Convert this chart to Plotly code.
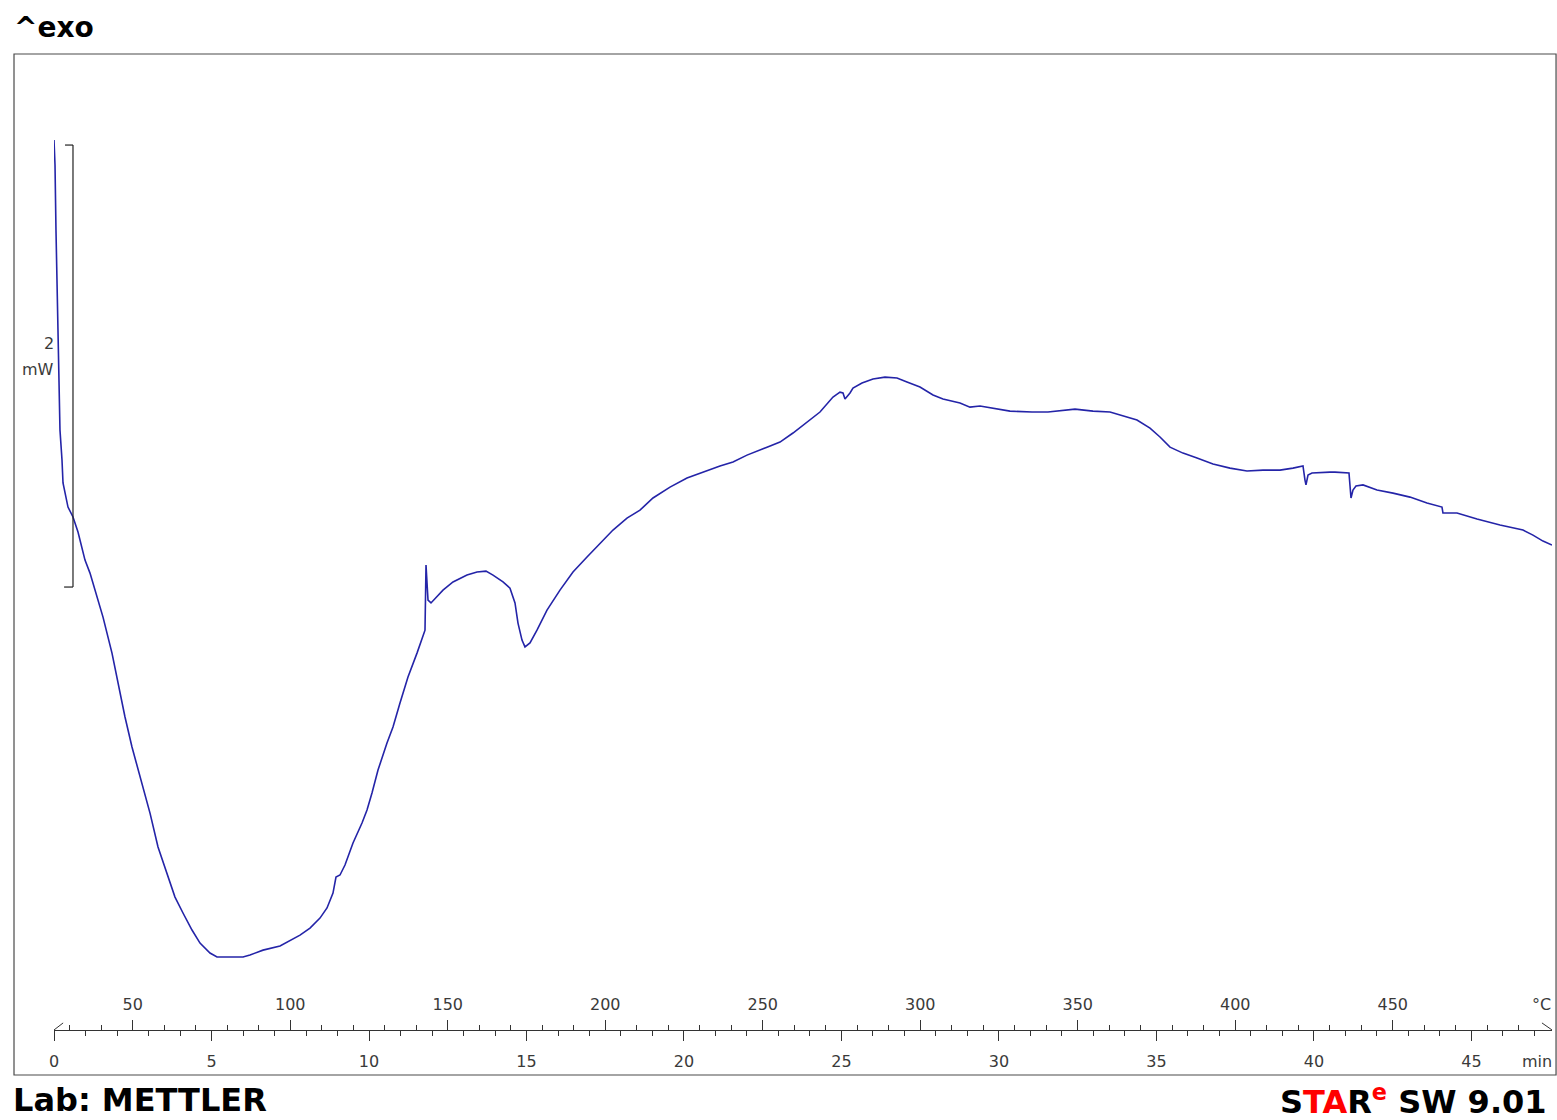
import plotly.graph_objects as go

# DSC run: heat flow (mW) against time (min); heating at 10 K/min from 25 °C
time_min = [
    0.000, 0.032, 0.063, 0.095, 0.127, 0.159, 0.190, 0.254, 0.286, 0.444,
    0.603, 0.762, 0.984, 1.143, 1.365, 1.556, 1.841, 2.032, 2.254, 2.476,
    2.730, 3.048, 3.302, 3.587, 3.841, 4.095, 4.381, 4.635, 4.952, 5.175,
    6.000, 6.222, 6.635, 7.175, 7.810, 8.127, 8.444, 8.667, 8.857, 8.952,
    9.079, 9.238, 9.492, 9.778, 9.937, 10.095, 10.286, 10.571, 10.762, 10.984,
    11.238, 11.524, 11.714, 11.778, 11.810, 11.873, 11.968, 12.159, 12.349, 12.667,
    13.111, 13.429, 13.714, 13.937, 14.254, 14.476, 14.635, 14.730, 14.857, 14.952,
    15.111, 15.333, 15.651, 16.063, 16.476, 16.921, 17.333, 17.746, 18.190, 18.603,
    19.016, 19.556, 20.095, 20.603, 21.143, 21.556, 22.000, 22.635, 23.048, 23.460,
    23.905, 24.317, 24.730, 24.952, 25.048, 25.111, 25.270, 25.365, 25.651, 26.000,
    26.381, 26.762, 27.079, 27.492, 27.905, 28.222, 28.762, 29.079, 29.397, 29.937,
    30.349, 31.048, 31.556, 32.413, 32.984, 33.524, 33.841, 34.381, 34.794, 35.111,
    35.429, 35.841, 36.286, 36.794, 37.333, 37.873, 38.381, 38.921, 39.333, 39.651,
    39.714, 39.746, 39.810, 39.937, 40.508, 40.667, 41.111, 41.175, 41.238, 41.333,
    41.556, 42.000, 42.508, 43.048, 43.587, 43.905, 44.063, 44.095, 44.540, 45.175,
    45.905, 46.635, 46.952, 47.270, 47.556,
]
heat_flow_mw = [
    2.023, 1.910, 1.615, 1.344, 1.118, 0.891, 0.710, 0.575, 0.471, 0.362,
    0.317, 0.249, 0.122, 0.063, -0.045, -0.136, -0.299, -0.434, -0.588, -0.724,
    -0.860, -1.023, -1.176, -1.294, -1.403, -1.475, -1.552, -1.611, -1.656, -1.674,
    -1.674, -1.665, -1.643, -1.624, -1.575, -1.543, -1.498, -1.452, -1.385, -1.312,
    -1.303, -1.258, -1.158, -1.068, -1.009, -0.932, -0.828, -0.706, -0.633, -0.525,
    -0.407, -0.299, -0.217, -0.195, 0.100, -0.059, -0.072, -0.045, -0.014, 0.023,
    0.054, 0.068, 0.072, 0.054, 0.023, -0.005, -0.072, -0.163, -0.240, -0.271,
    -0.253, -0.195, -0.104, -0.014, 0.068, 0.136, 0.199, 0.258, 0.312, 0.348,
    0.403, 0.452, 0.493, 0.520, 0.548, 0.566, 0.597, 0.633, 0.656, 0.697,
    0.747, 0.792, 0.860, 0.882, 0.878, 0.851, 0.878, 0.900, 0.923, 0.941,
    0.950, 0.946, 0.928, 0.905, 0.869, 0.851, 0.833, 0.814, 0.819, 0.805,
    0.796, 0.792, 0.792, 0.805, 0.796, 0.792, 0.778, 0.756, 0.719, 0.679,
    0.633, 0.606, 0.584, 0.557, 0.538, 0.525, 0.529, 0.529, 0.538, 0.548,
    0.484, 0.462, 0.507, 0.516, 0.520, 0.520, 0.516, 0.403, 0.439, 0.457,
    0.462, 0.439, 0.425, 0.407, 0.380, 0.367, 0.362, 0.335, 0.335, 0.308,
    0.281, 0.258, 0.235, 0.208, 0.190,
]

time_major = [0, 5, 10, 15, 20, 25, 30, 35, 40, 45]
temp_major = [50, 100, 150, 200, 250, 300, 350, 400, 450]
temp_minor = list(range(30, 500, 10))
scale_bar_mw = [0, 2]

T_START = 25.0      # °C at t = 0
RATE = 10.0         # K/min
T_END_MIN = 47.556  # end of run, min
Y_RANGE = [-2.208, 2.412]
AXIS_POS = 0.0441   # paper height of the shared time / temperature axis line

TICK_FONT = dict(family="DejaVu Sans", size=16, color="#3a3a3a")
AXIS_COLOR = "#333333"

fig = go.Figure()
fig.add_trace(go.Scatter(
    x=time_min, y=heat_flow_mw, mode="lines",
    line=dict(color="#2424a8", width=1.6),
    hoverinfo="skip", showlegend=False,
))
# invisible markers that attach the temperature scale to the plot
fig.add_trace(go.Scatter(
    x=temp_major, y=[Y_RANGE[0]] * len(temp_major), xaxis="x2", yaxis="y",
    mode="markers", marker=dict(opacity=0, size=1),
    hoverinfo="skip", showlegend=False,
))

fig.update_layout(
    width=1557, height=1120,
    margin=dict(l=54, r=5, t=54, b=45),
    paper_bgcolor="white", plot_bgcolor="white",
    showlegend=False,
    xaxis=dict(
        range=[0, T_END_MIN], anchor="free", position=AXIS_POS, side="bottom",
        showgrid=False, zeroline=False, showline=True,
        linecolor=AXIS_COLOR, linewidth=1,
        tickmode="array", tickvals=time_major,
        ticks="outside", ticklen=10, tickwidth=1, tickcolor=AXIS_COLOR,
        ticklabelstandoff=7, tickfont=TICK_FONT,
        minor=dict(dtick=1, tick0=0, ticks="outside", ticklen=5,
                   tickwidth=1, tickcolor=AXIS_COLOR, showgrid=False),
    ),
    xaxis2=dict(
        range=[T_START, T_START + RATE * T_END_MIN], overlaying="x",
        anchor="free", position=AXIS_POS, side="top",
        showgrid=False, zeroline=False, showline=False,
        tickmode="array", tickvals=temp_major,
        ticks="outside", ticklen=10, tickwidth=1, tickcolor=AXIS_COLOR,
        ticklabelstandoff=4, tickfont=TICK_FONT,
        minor=dict(tickmode="array", tickvals=temp_minor, ticks="outside",
                   ticklen=5, tickwidth=1, tickcolor=AXIS_COLOR, showgrid=False),
    ),
    yaxis=dict(range=Y_RANGE, visible=False, showgrid=False, zeroline=False),
)

shapes = [
    # outer frame
    dict(type="rect", xref="paper", yref="paper", x0=-0.0267, x1=1.0027, y0=0, y1=1,
         line=dict(color="#4a4a4a", width=1.2), layer="above"),
    # start and end marks of the axis line
    dict(type="line", xref="x", yref="paper", x0=0, x1=0.29, y0=AXIS_POS, y1=AXIS_POS + 0.0069,
         line=dict(color=AXIS_COLOR, width=1)),
    dict(type="line", xref="paper", yref="paper", x0=0.9933, x1=1.0, y0=AXIS_POS + 0.0069, y1=AXIS_POS,
         line=dict(color=AXIS_COLOR, width=1)),
    # 2 mW scale bar
    dict(type="line", xref="x", yref="y", x0=0.603, x1=0.603, y0=scale_bar_mw[0], y1=scale_bar_mw[1],
         line=dict(color="#222222", width=1.2)),
    dict(type="line", xref="x", yref="y", x0=0.35, x1=0.603, y0=scale_bar_mw[1], y1=scale_bar_mw[1],
         line=dict(color="#222222", width=1.2)),
    dict(type="line", xref="x", yref="y", x0=0.32, x1=0.603, y0=scale_bar_mw[0], y1=scale_bar_mw[0],
         line=dict(color="#222222", width=1.2)),
]
fig.update_layout(shapes=shapes)

annotations = [
    dict(text="2", x=0.0015, y=1.104, xref="paper", yref="y", xanchor="right", yanchor="middle",
         showarrow=False, font=TICK_FONT),
    dict(text="mW", x=0.0015, y=0.986, xref="paper", yref="y", xanchor="right", yanchor="middle",
         showarrow=False, font=TICK_FONT),
    dict(text="°C", x=0.9933, y=0.0686, xref="paper", yref="paper", xanchor="center", yanchor="middle",
         showarrow=False, font=TICK_FONT),
    dict(text="min", x=0.990, y=0.0137, xref="paper", yref="paper", xanchor="center", yanchor="middle",
         showarrow=False, font=TICK_FONT),
    dict(text="<b>^exo</b>", x=-0.0282, y=1.0264, xref="paper", yref="paper",
         xanchor="left", yanchor="middle", showarrow=False,
         font=dict(family="DejaVu Sans", size=28, color="black")),
    dict(text="<b>Lab: METTLER</b>", x=-0.0287, y=-0.0245, xref="paper", yref="paper",
         xanchor="left", yanchor="middle", showarrow=False,
         font=dict(family="DejaVu Sans", size=32, color="black")),
    dict(text="<b>S<span style='color:#ff0000'>TA</span>R<sup><span style='color:#ff0000'>e</span></sup> SW 9.01</b>",
         x=0.998, y=-0.0245, xref="paper", yref="paper",
         xanchor="right", yanchor="middle", showarrow=False,
         font=dict(family="DejaVu Sans", size=32, color="black")),
]
fig.update_layout(annotations=annotations)

fig.write_html("out.html")
